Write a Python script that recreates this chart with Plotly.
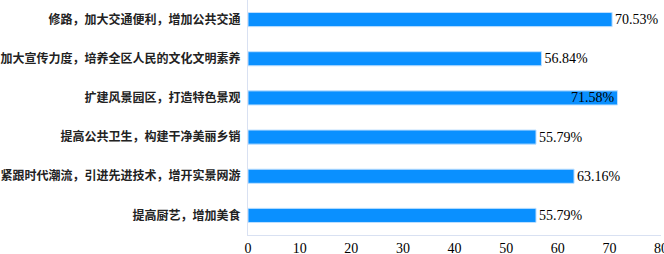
import plotly.graph_objects as go

categories = [
    "修路，加大交通便利，增加公共交通",
    "加大宣传力度，培养全区人民的文化文明素养",
    "扩建风景园区，打造特色景观",
    "提高公共卫生，构建干净美丽乡销",
    "紧跟时代潮流，引进先进技术，增开实景网游",
    "提高厨艺，增加美食",
]
values = [70.53, 56.84, 71.58, 55.79, 63.16, 55.79]
labels = ["70.53%", "56.84%", "71.58%", "55.79%", "63.16%", "55.79%"]
positions = ["outside", "outside", "inside", "outside", "outside", "outside"]
tick_vals = [0, 10, 20, 30, 40, 50, 60, 70, 80]

fig = go.Figure(go.Bar(
    y=categories,
    x=values,
    orientation="h",
    text=labels,
    textposition=positions,
    insidetextanchor="end",
    textfont=dict(family="Liberation Serif", size=14, color="#000000"),
    outsidetextfont=dict(family="Liberation Serif", size=14, color="#000000"),
    insidetextfont=dict(family="Liberation Serif", size=14, color="#000000"),
    marker=dict(color="#0A90FF", line=dict(color="#BFE0FF", width=1)),
    cliponaxis=False,
    constraintext="none",
))

fig.update_layout(
    width=664,
    height=254,
    margin=dict(l=248, r=3, t=0, b=19, autoexpand=False),
    paper_bgcolor="white",
    plot_bgcolor="white",
    bargap=0.64,
    showlegend=False,
    xaxis=dict(
        range=[0, 80],
        tickvals=tick_vals,
        showgrid=False,
        zeroline=False,
        showline=True,
        linecolor="#D9E1F2",
        linewidth=1,
        ticks="",
        automargin=False,
        ticklabeloverflow="allow",
        tickfont=dict(family="Liberation Serif", size=14, color="#000000"),
        fixedrange=True,
    ),
    yaxis=dict(
        autorange="reversed",
        showgrid=False,
        zeroline=False,
        showline=True,
        linecolor="#D9E1F2",
        linewidth=1,
        ticks="",
        automargin=False,
        ticklabeloverflow="allow",
        ticklabelstandoff=4,
        tickfont=dict(family="Noto Sans CJK SC", size=12, color="#222222", weight="bold"),
        fixedrange=True,
    ),
)

fig.write_html(
    "out.html",
    config={"displayModeBar": False},
    post_script="document.body.style.margin='0';document.body.style.overflow='hidden';",
)
